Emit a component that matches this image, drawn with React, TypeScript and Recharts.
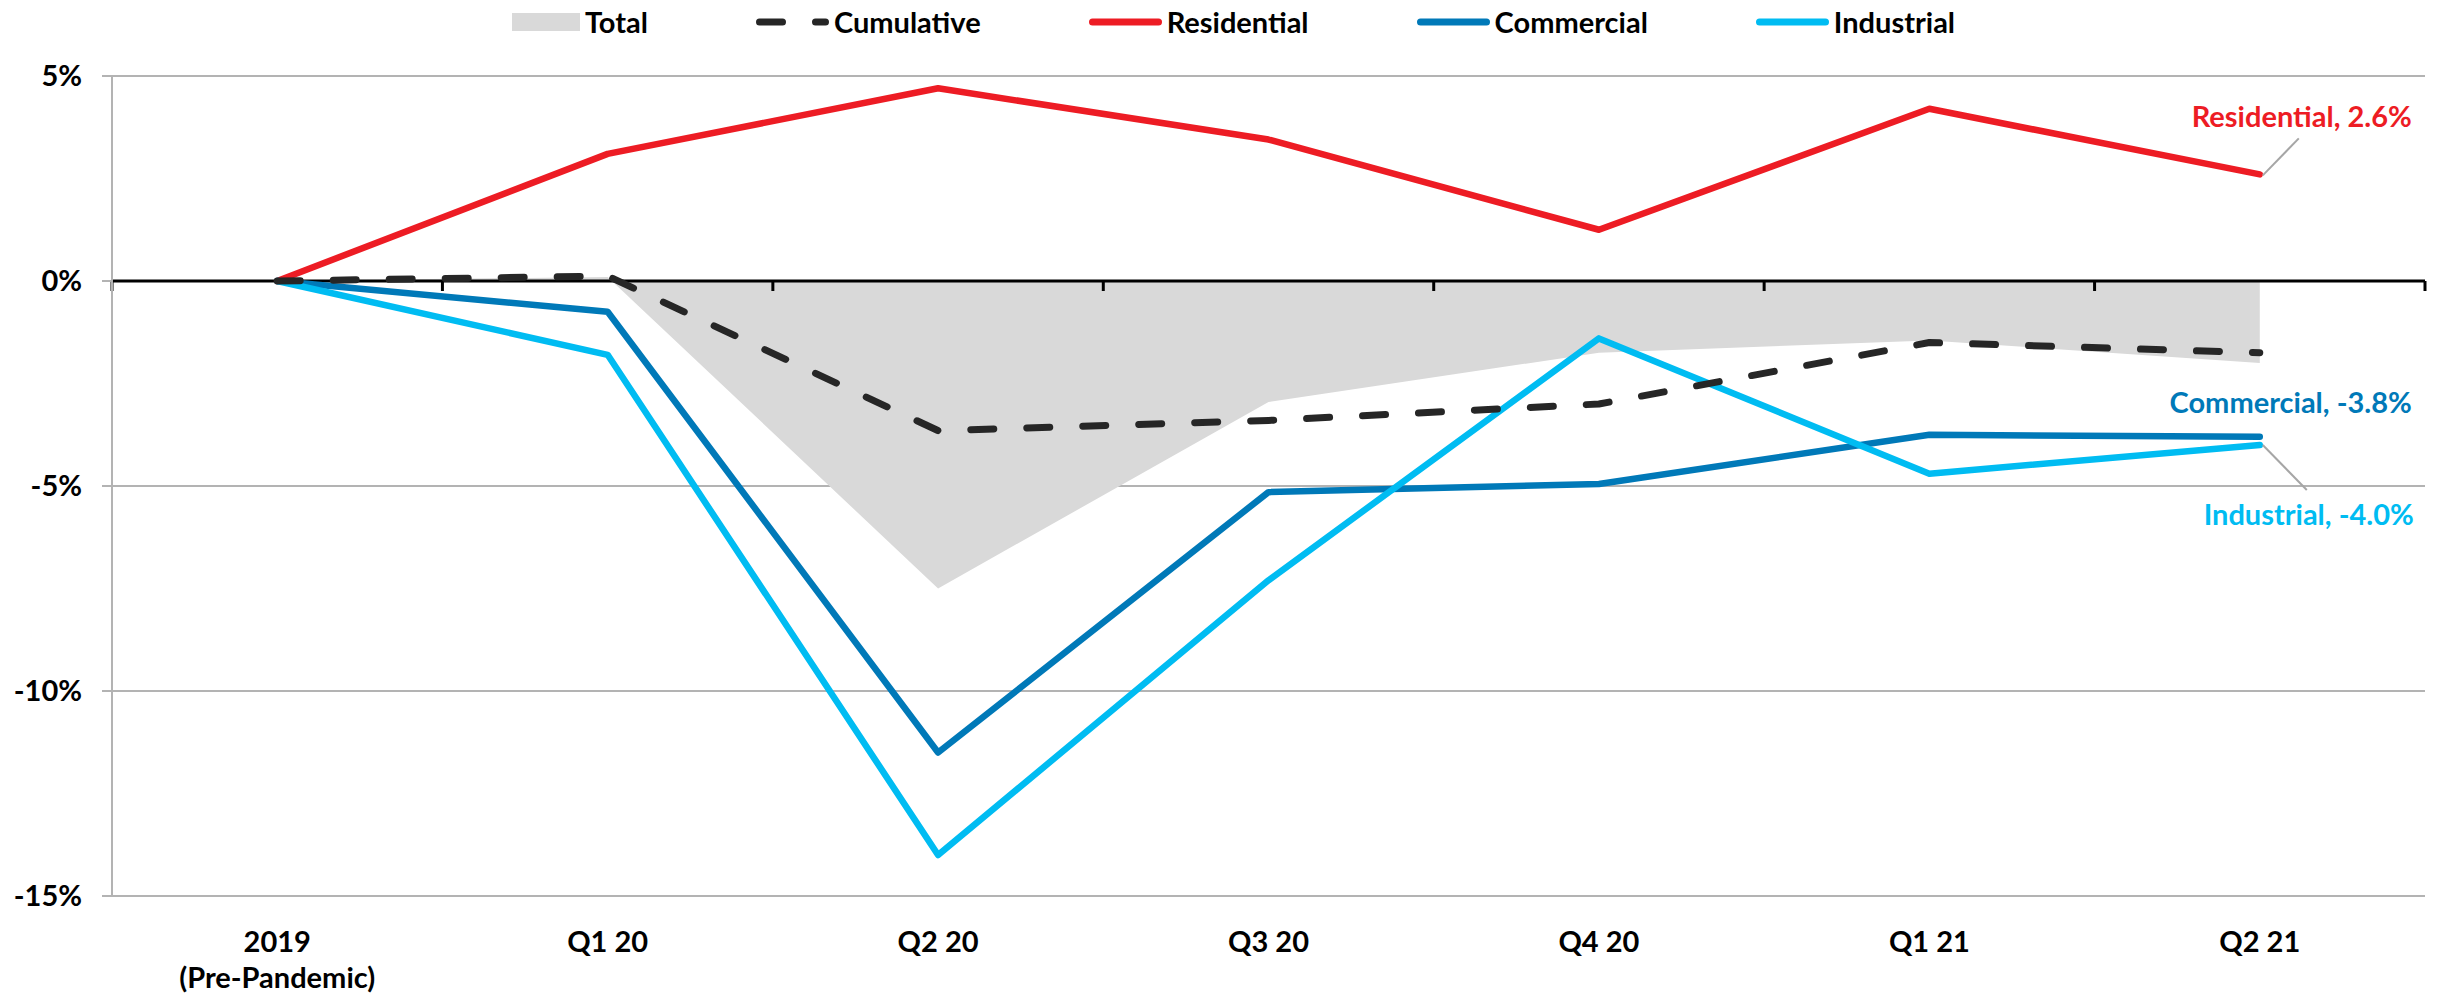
import {
  Area,
  CartesianGrid,
  ComposedChart,
  Line,
  ReferenceLine,
  XAxis,
  YAxis,
} from "recharts";

const CATEGORIES = [
  "2019\n(Pre-Pandemic)",
  "Q1 20",
  "Q2 20",
  "Q3 20",
  "Q4 20",
  "Q1 21",
  "Q2 21",
];
const TOTAL = [0, 0.1, -7.5, -2.95, -1.75, -1.45, -2.0];
const CUMULATIVE = [0, 0.12, -3.65, -3.4, -3.0, -1.5, -1.75];
const RESIDENTIAL = [0, 3.1, 4.7, 3.45, 1.25, 4.2, 2.6];
const COMMERCIAL = [0, -0.75, -11.5, -5.15, -4.95, -3.75, -3.8];
const INDUSTRIAL = [0, -1.8, -14.0, -7.3, -1.4, -4.7, -4.0];
const Y_TICKS = [5, 0, -5, -10, -15];

const W = 2443;
const H = 997;
const FONT = "Lato, 'Open Sans', sans-serif";
const GRID = "#B3B3B3";

const RED = "#ED1C24";
const BLUE = "#0079B8";
const CYAN = "#00BCF2";
const DARK = "#262626";
const GRAY = "#D9D9D9";
const DASH = "23 33";

const data = CATEGORIES.map((name, i) => ({
  name,
  total: TOTAL[i],
  cumulative: CUMULATIVE[i],
  residential: RESIDENTIAL[i],
  commercial: COMMERCIAL[i],
  industrial: INDUSTRIAL[i],
}));

const LEGEND = [
  { name: "Total", kind: "area", color: GRAY },
  { name: "Cumulative", kind: "dash", color: DARK },
  { name: "Residential", kind: "line", color: RED },
  { name: "Commercial", kind: "line", color: BLUE },
  { name: "Industrial", kind: "line", color: CYAN },
];

const last = CATEGORIES.length - 1;

function XTick({ x, y, payload }: any) {
  const lines = String(payload.value).split("\n");
  return (
    <text
      x={x}
      y={y}
      textAnchor="middle"
      fontFamily={FONT}
      fontWeight={700}
      fontSize={29}
      fill="#000"
    >
      {lines.map((l, i) => (
        <tspan key={i} x={x} dy={i === 0 ? 56 : 36}>
          {l}
        </tspan>
      ))}
    </text>
  );
}

function ZeroAxis(p: any) {
  const { x1, y1, x2, y2 } = p;
  const n = CATEGORIES.length;
  const step = (x2 - x1) / n;
  const ticks = Array.from({ length: n + 1 }, (_, i) => x1 + i * step);
  return (
    <g>
      <line x1={x1} y1={y1} x2={x2} y2={y2} stroke="#000" strokeWidth={3} />
      {ticks.map((tx, i) => (
        <line
          key={i}
          x1={tx}
          x2={tx}
          y1={y1}
          y2={y1 + 10}
          stroke="#000"
          strokeWidth={3}
        />
      ))}
    </g>
  );
}

function endLabel(
  text: string,
  color: string,
  dx: number,
  dy: number,
  leader?: [number, number, number, number]
) {
  return (props: any) => {
    if (props.index !== last) return null;
    const { x, y } = props;
    return (
      <g>
        {leader && (
          <line
            x1={x + leader[0]}
            y1={y + leader[1]}
            x2={x + leader[2]}
            y2={y + leader[3]}
            stroke="#A6A6A6"
            strokeWidth={2}
          />
        )}
        <text
          x={x + dx}
          y={y + dy}
          textAnchor="end"
          fontFamily={FONT}
          fontWeight={700}
          fontSize={29}
          fill={color}
        >
          {text}
        </text>
      </g>
    );
  };
}

function LegendBar() {
  return (
    <div
      style={{
        position: "absolute",
        left: 0,
        top: 0,
        width: W,
        height: 44,
        display: "flex",
        justifyContent: "center",
        alignItems: "center",
        paddingLeft: 24,
        boxSizing: "border-box",
        fontFamily: FONT,
        fontWeight: 700,
        fontSize: 29,
        color: "#000",
      }}
    >
      {LEGEND.map((item, i) => (
        <div
          key={item.name}
          style={{
            display: "flex",
            alignItems: "center",
            marginRight: i === LEGEND.length - 1 ? 0 : 108,
          }}
        >
          <svg width={item.kind === "area" ? 68 : 73} height={18} style={{ marginRight: 5 }}>
            {item.kind === "area" ? (
              <rect x={0} y={0} width={68} height={18} fill={item.color} />
            ) : (
              <line
                x1={3.5}
                x2={69.5}
                y1={9}
                y2={9}
                stroke={item.color}
                strokeWidth={7}
                strokeLinecap="round"
                strokeDasharray={item.kind === "dash" ? DASH : undefined}
              />
            )}
          </svg>
          <span style={{ lineHeight: "44px" }}>{item.name}</span>
        </div>
      ))}
    </div>
  );
}

export default function App() {
  return (
    <div style={{ position: "absolute", left: 0, top: 0, width: W, height: H, background: "#fff" }}>
      <ComposedChart
        width={W}
        height={H}
        data={data}
        margin={{ top: 76, right: 18, left: 0, bottom: 0 }}
      >
        <CartesianGrid vertical={false} stroke={GRID} strokeWidth={2} />
        <XAxis
          dataKey="name"
          scale="band"
          height={101}
          axisLine={false}
          tickLine={false}
          tickSize={0}
          tickMargin={0}
          interval={0}
          tick={<XTick />}
        />
        <YAxis
          domain={[-15, 5]}
          ticks={Y_TICKS}
          width={112}
          interval={0}
          tickFormatter={(v: number) => `${v}%`}
          axisLine={{ stroke: GRID, strokeWidth: 2 }}
          tickLine={{ stroke: GRID, strokeWidth: 2 }}
          tickSize={10}
          tickMargin={20}
          tick={{ fontFamily: FONT, fontWeight: 700, fontSize: 29, fill: "#000" }}
        />
        <YAxis
          yAxisId="right"
          orientation="right"
          domain={[-15, 5]}
          width={0}
          tick={false}
          tickLine={false}
          axisLine={{ stroke: GRID, strokeWidth: 2 }}
        />
        <Area
          dataKey="total"
          type="linear"
          fill={GRAY}
          fillOpacity={1}
          stroke="none"
          isAnimationActive={false}
        />
        <ReferenceLine y={0} shape={ZeroAxis} />
        <Line
          dataKey="residential"
          type="linear"
          stroke={RED}
          strokeWidth={6.5}
          strokeLinejoin="round"
          strokeLinecap="round"
          dot={false}
          isAnimationActive={false}
          label={endLabel("Residential, 2.6%", RED, 152, -47, [3, 1, 39, -36])}
        />
        <Line
          dataKey="commercial"
          type="linear"
          stroke={BLUE}
          strokeWidth={6.5}
          strokeLinejoin="round"
          strokeLinecap="round"
          dot={false}
          isAnimationActive={false}
          label={endLabel("Commercial, -3.8%", BLUE, 152, -24)}
        />
        <Line
          dataKey="industrial"
          type="linear"
          stroke={CYAN}
          strokeWidth={6.5}
          strokeLinejoin="round"
          strokeLinecap="round"
          dot={false}
          isAnimationActive={false}
          label={endLabel("Industrial, -4.0%", CYAN, 154, 80, [3, 0, 47, 45])}
        />
        <Line
          dataKey="cumulative"
          type="linear"
          stroke={DARK}
          strokeWidth={7}
          strokeDasharray={DASH}
          strokeLinecap="round"
          strokeLinejoin="round"
          dot={false}
          isAnimationActive={false}
        />
      </ComposedChart>
      <LegendBar />
    </div>
  );
}
